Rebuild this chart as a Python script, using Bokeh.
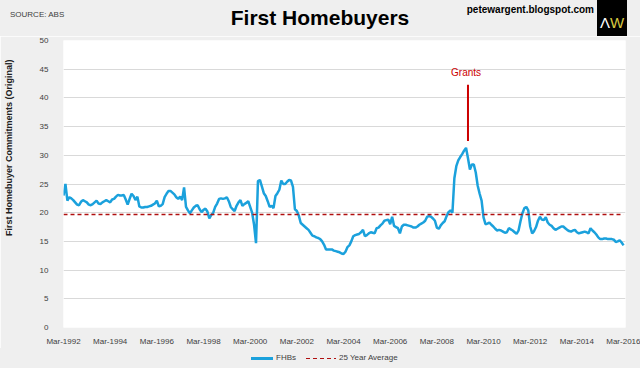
from bokeh.plotting import figure
from bokeh.layouts import column
from bokeh.models import Range1d, FixedTicker, Label, Div
from bokeh.embed import file_html
from bokeh.resources import INLINE

# Monthly first homebuyer commitments (thousands), Mar-1992 .. Mar-2016
fhb = [
    23.0, 25.0, 22.1, 22.7, 22.5, 22.2, 21.8, 21.4, 21.3, 21.9, 22.2, 22.0,
    21.8, 21.4, 21.3, 21.5, 21.8, 22.1, 21.6, 21.5, 21.8, 22.0, 22.2, 22.0,
    21.8, 22.3, 22.4, 22.8, 23.1, 23.0, 23.0, 23.1, 22.3, 21.4, 22.4, 23.3,
    22.9, 22.2, 22.8, 21.1, 20.9, 20.9, 21.0, 21.0, 21.1, 21.2, 21.4, 21.6,
    22.1, 21.1, 21.2, 21.5, 22.7, 23.3, 23.8, 23.8, 23.5, 23.2, 22.7, 22.4,
    22.8, 22.2, 24.4, 21.0, 20.4, 19.9, 20.4, 20.9, 21.2, 21.3, 20.6, 20.1,
    20.5, 20.7, 20.2, 19.0, 19.6, 20.0, 21.0, 21.6, 22.4, 22.5, 22.4, 22.5,
    22.7, 22.0, 21.0, 20.6, 20.3, 21.2, 21.8, 22.2, 21.2, 21.5, 21.7, 22.0,
    21.0, 20.0, 17.9, 14.7, 25.5, 25.7, 24.6, 23.4, 22.9, 22.0, 21.0, 21.2,
    20.8, 22.9, 23.4, 24.0, 25.6, 25.0, 25.0, 25.4, 25.7, 25.6, 24.5, 20.6,
    20.3, 19.5, 18.2, 17.9, 17.6, 17.3, 17.0, 16.5, 16.0, 15.9, 15.7, 15.6,
    15.4, 15.0, 14.4, 13.6, 13.6, 13.6, 13.6, 13.4, 13.3, 13.2, 13.1, 12.9,
    12.8, 13.2, 14.0, 14.3, 15.0, 15.9, 16.1, 16.2, 16.3, 16.6, 17.0, 15.9,
    16.1, 16.4, 16.6, 16.5, 16.4, 17.3, 17.4, 17.8, 18.1, 18.6, 18.7, 18.8,
    18.0, 19.3, 17.7, 17.5, 17.3, 16.4, 17.6, 17.9, 17.9, 17.8, 17.7, 17.6,
    17.4, 17.4, 17.6, 17.9, 18.1, 18.3, 18.6, 19.3, 19.4, 19.3, 19.0, 18.6,
    17.4, 17.2, 17.8, 18.2, 18.5, 19.4, 20.1, 20.4, 20.0, 26.0, 28.1, 29.1,
    29.7, 30.2, 30.8, 31.3, 29.5, 27.5, 28.4, 28.4, 27.0, 24.7, 23.3, 22.1,
    19.2, 18.0, 18.1, 18.3, 17.9, 17.6, 17.2, 16.9, 17.0, 16.9, 16.7, 16.5,
    16.6, 17.3, 17.1, 16.9, 16.6, 16.3, 16.9, 18.5, 19.9, 20.8, 21.0, 20.4,
    17.6, 16.4, 16.8, 17.5, 18.6, 19.3, 18.8, 18.7, 19.2, 18.3, 17.9, 17.7,
    17.3, 17.0, 17.2, 17.4, 17.6, 17.6, 17.3, 17.0, 16.8, 16.7, 16.9, 17.0,
    16.6, 16.4, 16.5, 16.6, 16.7, 16.6, 16.4, 17.3, 16.9, 16.6, 16.2, 15.7,
    15.4, 15.4, 15.5, 15.5, 15.4, 15.4, 15.4, 15.3, 14.9, 15.0, 15.2, 14.8,
    14.3,
]
avg_25yr = 19.7

tick_labels = ["Mar-1992", "Mar-1994", "Mar-1996", "Mar-1998", "Mar-2000",
               "Mar-2002", "Mar-2004", "Mar-2006", "Mar-2008", "Mar-2010",
               "Mar-2012", "Mar-2014", "Mar-2016"]
y_ticks = [0, 5, 10, 15, 20, 25, 30, 35, 40, 45, 50]
series_names = ["FHBs", "25 Year Average"]

grants_month = 208          # Jul-2009
grants_line = (32.5, 42.3)

FONT = "Liberation Sans"
BG = "#efefef"
W = 640
HEAD_H = 36
FOOT_H = 20
MAIN_H = 368 - HEAD_H - FOOT_H

FHB_COLOR = "#1ba1dc"
AVG_COLOR = "#b01010"

months = list(range(len(fhb)))
tick_pos = [24 * i for i in range(len(tick_labels))]

# ---------- header strip (title, source, site, logo) ----------
header_html = f"""
<div style="position:relative;width:{W}px;height:{HEAD_H}px;background:{BG};
            font-family:'{FONT}';overflow:hidden;">
  <span style="position:absolute;left:10px;top:11px;font-size:8px;line-height:8px;
               color:#404040;white-space:nowrap;">SOURCE: ABS</span>
  <span style="position:absolute;left:0;top:7px;width:{W}px;text-align:center;
               font-size:21px;line-height:21px;font-weight:bold;color:#000;
               white-space:nowrap;">First Homebuyers</span>
  <span style="position:absolute;right:{W - 594}px;top:4px;font-size:10px;line-height:11px;
               font-weight:bold;color:#000;white-space:nowrap;">petewargent.blogspot.com</span>
  <div style="position:absolute;left:597px;top:0;width:30px;height:{HEAD_H}px;background:#000;
              display:flex;align-items:center;justify-content:center;
              font-size:15px;line-height:15px;padding-top:8px;box-sizing:border-box;">
    <span style="color:#fff;">Λ</span><span style="color:#d8c840;">W</span>
  </div>
</div>
"""
head = Div(text=header_html, width=W, height=HEAD_H, margin=0,
           styles={"background-color": BG})

# ---------- main chart ----------
p = figure(width=W, height=MAIN_H, output_backend="svg", toolbar_location=None,
           x_range=Range1d(0, 289), y_range=Range1d(0, 50),
           min_border_left=62, min_border_right=15, min_border_top=4,
           min_border_bottom=MAIN_H - 4 - 294, background_fill_color="white",
           border_fill_color=BG, outline_line_color=None)

p.line(months, fhb, color=FHB_COLOR, line_width=2.5)
p.line(months, [avg_25yr] * len(months), color=AVG_COLOR,
       line_width=1.5, line_dash="4 3")

p.segment(x0=[grants_month], y0=[grants_line[0]], x1=[grants_month],
          y1=[grants_line[1]], color="#cc0000", line_width=2)
p.add_layout(Label(x=grants_month - 1, y=44.4, text="Grants", text_align="center",
                   text_baseline="middle", text_font=FONT, text_font_size="10px",
                   text_color="#cc0000"))

p.xgrid.grid_line_color = None
p.ygrid.grid_line_color = "#d9d9d9"
p.ygrid.grid_line_width = 1
p.yaxis.ticker = FixedTicker(ticks=y_ticks)
p.xaxis.ticker = FixedTicker(ticks=tick_pos)
p.xaxis.major_label_overrides = {pos: lab for pos, lab in zip(tick_pos, tick_labels)}
for ax in (p.xaxis[0], p.yaxis[0]):
    ax.axis_line_color = None
    ax.major_tick_line_color = None
    ax.minor_tick_line_color = None
    ax.major_label_text_font = FONT
    ax.major_label_text_font_size = "8px"
    ax.major_label_text_color = "#404040"
p.yaxis.major_label_standoff = 9
p.xaxis.major_label_standoff = 3
p.yaxis.axis_label = "\u00a0" * 29 + "First Homebuyer Commitments (Original)"
p.yaxis.axis_label_text_font = FONT
p.yaxis.axis_label_text_font_style = "bold"
p.yaxis.axis_label_text_font_size = "9px"
p.yaxis.axis_label_text_color = "#202020"
p.yaxis.axis_label_standoff = 23

# ---------- footer legend ----------
footer_html = f"""
<div style="position:relative;width:{W}px;height:{FOOT_H}px;background:{BG};
            font-family:'{FONT}';font-size:8px;line-height:10px;color:#404040;">
  <div style="position:absolute;left:251px;top:9px;width:22px;height:2.5px;
              background:{FHB_COLOR};"></div>
  <span style="position:absolute;left:276px;top:5px;white-space:nowrap;">{series_names[0]}</span>
  <div style="position:absolute;left:306px;top:9.5px;width:30px;height:1.5px;
              background:repeating-linear-gradient(90deg,{AVG_COLOR} 0 4px,transparent 4px 7px);"></div>
  <span style="position:absolute;left:339px;top:5px;white-space:nowrap;">{series_names[1]}</span>
</div>
"""
foot = Div(text=footer_html, width=W, height=FOOT_H, margin=0,
           styles={"background-color": BG})

open("out.html", "w").write(file_html(column(head, p, foot, spacing=0), INLINE))
